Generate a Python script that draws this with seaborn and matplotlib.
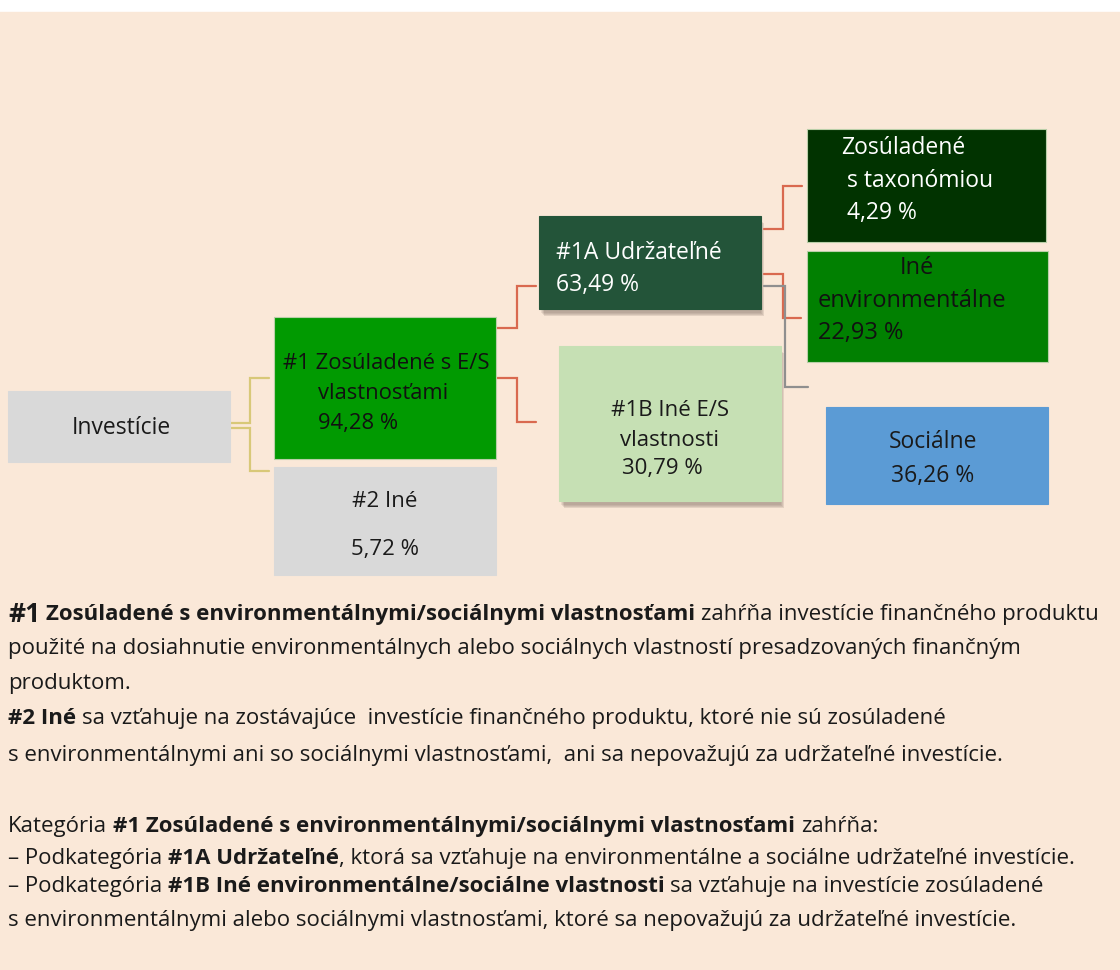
import matplotlib
matplotlib.use("Agg")
import matplotlib.pyplot as plt
import seaborn as sns
from matplotlib.patches import Rectangle

# --- údaje ---
node_labels = ["Investície", "#1 Zosúladené s E/S\nvlastnosťami", "#2 Iné",
               "#1A Udržateľné", "#1B Iné E/S\nvlastnosti",
               "Zosúladené\ns taxonómiou", "Iné\nenvironmentálne", "Sociálne"]
node_shares = [None, 94.28, 5.72, 63.49, 30.79, 4.29, 22.93, 36.26]

footer_lines = [
    [("#1", "big"), (" Zosúladené s environmentálnymi/sociálnymi vlastnosťami", "bold"),
     (" zahŕňa investície finančného produktu", "normal")],
    [("použité na dosiahnutie environmentálnych alebo sociálnych vlastností presadzovaných finančným", "normal")],
    [("produktom.", "normal")],
    [("#2 Iné", "bold"),
     (" sa vzťahuje na zostávajúce  investície finančného produktu, ktoré nie sú zosúladené", "normal")],
    [("s environmentálnymi ani so sociálnymi vlastnosťami,  ani sa nepovažujú za udržateľné investície.", "normal")],
    [("Kategória ", "normal"), ("#1 Zosúladené s environmentálnymi/sociálnymi vlastnosťami", "bold"),
     (" zahŕňa:", "normal")],
    [("– Podkategória ", "normal"), ("#1A Udržateľné", "bold"),
     (", ktorá sa vzťahuje na environmentálne a sociálne udržateľné investície.", "normal")],
    [("– Podkategória ", "normal"), ("#1B Iné environmentálne/sociálne vlastnosti", "bold"),
     (" sa vzťahuje na investície zosúladené", "normal")],
    [("s environmentálnymi alebo sociálnymi vlastnosťami, ktoré sa nepovažujú za udržateľné investície.", "normal")],
]

# --- rozloženie (pixely) ---
BG = "#FAE8D8"
boxes = [  # x0, y0, x1, y1, farba, farba textu, tieň
    (8, 391, 230, 462, "#D9D9D9", "#1a1a1a", False),
    (274, 317, 496, 459, "#019A01", "#111111", False),
    (274, 467, 496, 575, "#D9D9D9", "#1a1a1a", False),
    (539, 216, 761, 309, "#235439", "white", True),
    (559, 346, 781, 501, "#C6E0B4", "#1a1a1a", True),
    (807, 129, 1046, 242, "#013300", "white", False),
    (807, 251, 1048, 362, "#018001", "#111111", False),
    (826, 407, 1048, 504, "#5B9BD5", "#1a1a1a", False),
]
text_pos = [
    [(121, 428, "center")],
    [(283, 363, "left"), (318, 393, "left"), (318, 423, "left")],
    [(385, 501, "center"), (385, 549, "center")],
    [(556, 253, "left"), (556, 285, "left")],
    [(670, 410, "center"), (670, 440, "center"), (622, 468, "left")],
    [(841, 148, "left"), (847, 181, "left"), (847, 213, "left")],
    [(917, 268, "center"), (818, 301, "left"), (818, 333, "left")],
    [(933, 442, "center"), (933, 476, "center")],
]
box_font = [16.5, 15.8, 16, 16.5, 16, 16.5, 17, 16.5]
connectors = [  # (body, farba)
    ([(230, 423), (250, 423), (250, 378), (269, 378)], "#D8C878"),
    ([(230, 428), (250, 428), (250, 471), (269, 471)], "#D8C878"),
    ([(496, 328), (517, 328), (517, 286), (536, 286)], "#D9694F"),
    ([(496, 378), (517, 378), (517, 422), (536, 422)], "#D9694F"),
    ([(764, 229), (783, 229), (783, 186), (802, 186)], "#D9694F"),
    ([(764, 274), (783, 274), (783, 318), (801, 318)], "#D9694F"),
    ([(764, 286), (785, 286), (785, 387), (808, 387)], "#8F8F8F"),
]
footer_y = [614, 648, 683, 718, 755, 826, 858, 886, 920]

sns.set_theme(style="white")
plt.rcParams["font.family"] = ["Open Sans", "DejaVu Sans"]

fig = plt.figure(figsize=(11.2, 9.7001), dpi=100, facecolor="white")
ax = fig.add_axes([0, 0, 1, 1])
ax.set_xlim(0, 1120)
ax.set_ylim(970, 0)
ax.axis("off")

ax.add_patch(Rectangle((-5, 12), 1130, 970, color=BG, zorder=0))

for (x0, y0, x1, y1, fc, tc, shadow), lines_xy, label, share, fs in zip(
        boxes, text_pos, node_labels, node_shares, box_font):
    if shadow:
        for k, a in enumerate([0.10, 0.10, 0.12, 0.14]):
            ax.add_patch(Rectangle((x0 + 2 + k, y0 + 4 + k), x1 - x0 - 2, y1 - y0,
                                   color="#5a4a40", alpha=a, lw=0, zorder=1))
    ax.add_patch(Rectangle((x0, y0), x1 - x0, y1 - y0, facecolor=fc,
                           edgecolor="#b9cfa8" if fc.startswith("#01") else fc,
                           lw=0.8, zorder=2))
    parts = label.split("\n")
    if share is not None:
        parts.append(f"{share:.2f}".replace(".", ",") + " %")
    for (tx, ty, ha), s in zip(lines_xy, parts):
        ax.text(tx, ty, s, ha=ha, va="center", fontsize=fs, color=tc, zorder=3)

for pts, col in connectors:
    xs, ys = zip(*pts)
    ax.plot(xs, ys, color=col, lw=1.6, zorder=1.5, solid_joinstyle="miter")

# --- text pod diagramom ---
renderer = fig.canvas.get_renderer()
styles = {"normal": dict(fontsize=16, fontweight="normal"),
          "bold": dict(fontsize=16, fontweight="bold"),
          "big": dict(fontsize=19, fontweight="bold")}


def text_width(s, st):
    t1 = ax.text(0, 0, "|" + s + "|", **styles[st])
    t2 = ax.text(0, 0, "||", **styles[st])
    w = t1.get_window_extent(renderer).width - t2.get_window_extent(renderer).width
    t1.remove()
    t2.remove()
    return w


for y, pieces in zip(footer_y, footer_lines):
    x = 8
    for s, st in pieces:
        lead = len(s) - len(s.lstrip(" "))
        x += text_width(" " * lead, st) if lead else 0
        core = s.strip(" ")
        ax.text(x, y, core, ha="left", va="center", color="#1a1a1a", zorder=3, **styles[st])
        x += text_width(core, st)
        trail = len(s) - len(s.rstrip(" "))
        x += text_width(" " * trail, st) if trail else 0

fig.savefig("out.png", dpi=100, facecolor="white")
